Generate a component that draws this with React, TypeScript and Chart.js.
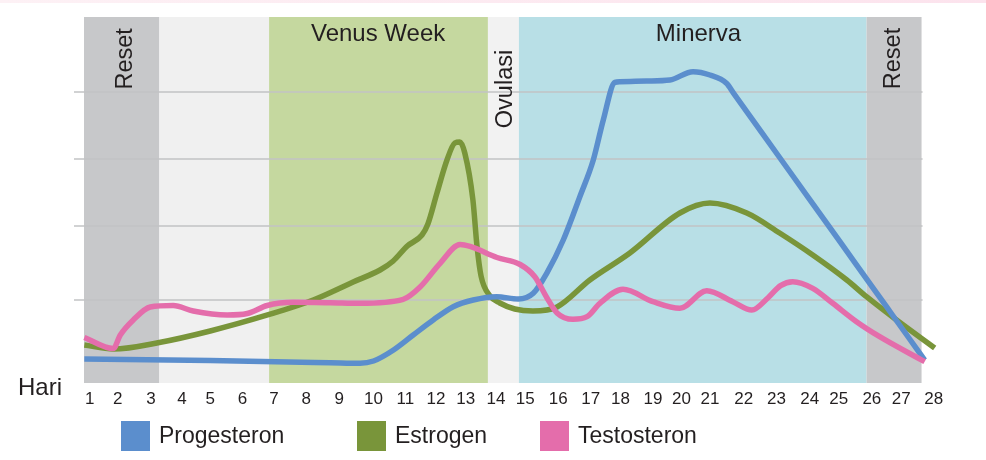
import React, { useEffect, useRef } from "react";
import { Chart, registerables } from "chart.js";

Chart.register(...registerables);

// ---- Data ----
const dayTickLabels = [
  "1", "2", "3", "4", "5", "6", "7", "8", "9", "10", "11", "12", "13", "14",
  "15", "16", "17", "18", "19", "20", "21", "22", "23", "24", "25", "26", "27", "28",
];
const dayTickPositions = [
  1.0, 1.895, 2.96, 3.95, 4.86, 5.89, 6.9, 7.93, 8.98, 10.08, 11.1, 12.08, 13.03, 14.0,
  14.93, 15.99, 17.03, 17.98, 19.02, 19.93, 20.84, 21.92, 22.97, 24.03, 24.96, 26.02, 26.96, 28.0,
];

const phaseNames = ["Reset", "", "Venus Week", "Ovulasi", "Minerva", "Reset"];
const phaseStart = [0.82, 3.23, 6.74, 13.74, 14.73, 25.85];
const phaseEnd = [3.23, 6.74, 13.74, 14.73, 25.85, 27.61];

const gridValues = [79.5, 61.2, 42.9, 22.7];

const progesteronX = [
  0.83, 4.86, 8.69, 9.65, 10.08, 10.72, 11.35, 11.99, 12.63, 13.27, 14.02, 14.71, 15.19, 15.62,
  16.15, 16.68, 17.11, 17.43, 17.8, 17.96, 18.81, 19.56, 20.3, 20.84, 21.37, 21.6, 22.5, 23.5,
  24.5, 25.5, 26.5, 27.2, 27.71,
];
const progesteronY = [
  6.56, 6.15, 5.55, 5.38, 6.01, 9.02, 13.11, 17.21, 20.85, 22.68, 23.58, 22.95, 24.51, 29.97,
  39.07, 50.9, 60.93, 71.86, 82.16, 82.32, 82.51, 82.79, 85.05, 84.15, 81.89, 79.15, 68.41, 56.49,
  44.56, 32.64, 20.71, 12.36, 6.28,
];

const estrogenX = [
  0.83, 1.757, 3.228, 4.858, 6.744, 8.15, 9.429, 10.29, 10.71, 11.16, 11.63, 11.82, 12.11, 12.43,
  12.68, 12.84, 13.0, 13.26, 13.39, 13.52, 13.81, 14.12, 14.6, 15.18, 15.95, 17.0, 18.28, 19.88,
  20.84, 22.02, 23.07, 24.13, 25.22, 25.86, 26.81, 28.03,
];
const estrogenY = [
  10.38, 9.29, 11.07, 14.21, 18.72, 22.68, 27.6, 30.87, 33.33, 37.43, 40.44, 43.44, 51.91, 60.93,
  65.57, 65.85, 62.84, 50.0, 37.43, 29.23, 23.77, 21.86, 20.22, 19.67, 20.77, 28.14, 35.52, 46.45,
  49.18, 46.45, 40.98, 34.97, 28.14, 23.5, 17.21, 9.56,
];

const testosteronX = [
  0.83, 1.757, 1.981, 2.396, 2.939, 3.674, 4.314, 5.4, 6.04, 6.679, 7.51, 8.693, 9.652, 11.03,
  11.57, 12.21, 12.85, 13.17, 14.03, 14.77, 15.24, 15.63, 15.95, 16.46, 16.91, 17.32, 18.06, 19.02,
  19.88, 20.74, 21.57, 22.18, 22.7, 23.1, 23.49, 24.13, 24.77, 25.53, 26.27, 27.71,
];
const testosteronY = [
  12.43, 9.43, 13.11, 17.21, 20.77, 21.17, 19.67, 18.58, 18.99, 21.17, 22.05, 21.94, 21.78, 22.87,
  26.23, 32.7, 37.84, 37.3, 34.29, 32.38, 29.04, 23.22, 19.13, 17.4, 18.11, 21.78, 25.6, 22.21,
  20.41, 25.22, 22.21, 19.95, 23.3, 26.6, 27.68, 25.87, 21.78, 16.75, 12.65, 5.82,
];

// ---- Styles / layout ----
const phaseColors = ["#c7c8ca", "#f0f0f0", "#c5d89f", "#f2f2f2", "#b8dfe6", "#c7c8ca"];
const phaseVertical = [true, false, false, true, false, true];
const phaseLabelDay = [2.141, 0, 10.227, 14.3, 20.476, 26.718];
const phaseLabelOffset = [41.8, 0, 17.7, 72, 17.7, 41.5];
const legendBoxX = [121, 357, 540];
const FONT = "'Liberation Sans', Arial, sans-serif";
const TEXT = "#231f20";

const toPoints = (xs: number[], ys: number[]) => xs.map((x, i) => ({ x, y: ys[i] }));

const decorPlugin = {
  id: "decor",
  beforeDraw(chart: any) {
    const { ctx, width } = chart;
    ctx.save();
    const g = ctx.createLinearGradient(0, 0, width, 0);
    g.addColorStop(0, "#fdf1f5");
    g.addColorStop(1, "#fce3ed");
    ctx.fillStyle = g;
    ctx.fillRect(0, 0, width, 3);
    ctx.restore();
  },
  beforeDatasetsDraw(chart: any) {
    const { ctx, chartArea, scales } = chart;
    const xs = scales.x;
    const ys = scales.y;
    ctx.save();
    for (let i = 0; i < phaseStart.length; i++) {
      const x0 = xs.getPixelForValue(phaseStart[i]);
      const x1 = xs.getPixelForValue(phaseEnd[i]);
      ctx.fillStyle = phaseColors[i];
      ctx.fillRect(x0, chartArea.top, x1 - x0, chartArea.bottom - chartArea.top);
    }
    const gridRight = xs.getPixelForValue(phaseEnd[phaseEnd.length - 1]) + 1;
    ctx.strokeStyle = "#c2c3c5";
    ctx.lineWidth = 1.5;
    gridValues.forEach((v) => {
      const py = ys.getPixelForValue(v);
      ctx.beginPath();
      ctx.moveTo(chartArea.left - 10, py);
      ctx.lineTo(gridRight, py);
      ctx.stroke();
    });
    ctx.fillStyle = TEXT;
    ctx.textAlign = "center";
    ctx.textBaseline = "middle";
    for (let i = 0; i < phaseNames.length; i++) {
      if (!phaseNames[i]) continue;
      const cx = xs.getPixelForValue(phaseLabelDay[i]);
      const cy = chartArea.top + phaseLabelOffset[i];
      if (phaseVertical[i]) {
        ctx.save();
        ctx.font = `23.5px ${FONT}`;
        ctx.translate(cx, cy);
        ctx.rotate(-Math.PI / 2);
        ctx.fillText(phaseNames[i], 0, 0);
        ctx.restore();
      } else {
        ctx.font = `24px ${FONT}`;
        ctx.fillText(phaseNames[i], cx, cy);
      }
    }
    ctx.restore();
  },
  afterDraw(chart: any) {
    const { ctx, chartArea } = chart;
    ctx.save();
    ctx.fillStyle = TEXT;
    ctx.font = `24px ${FONT}`;
    ctx.textAlign = "left";
    ctx.textBaseline = "alphabetic";
    ctx.fillText("Hari", 18, chartArea.bottom + 12);
    chart.data.datasets.forEach((ds: any, i: number) => {
      const bx = legendBoxX[i];
      const by = chartArea.bottom + 38;
      ctx.fillStyle = ds.borderColor;
      ctx.fillRect(bx, by, 29, 30);
      ctx.fillStyle = TEXT;
      ctx.font = `23px ${FONT}`;
      ctx.fillText(ds.label, bx + 38, by + 22);
    });
    ctx.restore();
  },
};

export default function App() {
  const canvasRef = useRef<HTMLCanvasElement | null>(null);

  useEffect(() => {
    if (!canvasRef.current) return;
    const lineStyle = {
      borderWidth: 5.5,
      pointRadius: 0,
      cubicInterpolationMode: "monotone" as const,
      borderCapStyle: "butt" as const,
      borderJoinStyle: "round" as const,
      fill: false,
      clip: false as any,
    };
    const chart = new Chart(canvasRef.current, {
      type: "line",
      data: {
        datasets: [
          {
            label: "Progesteron",
            data: toPoints(progesteronX, progesteronY),
            borderColor: "#5b8ecd",
            backgroundColor: "#5b8ecd",
            order: 1,
            ...lineStyle,
          },
          {
            label: "Estrogen",
            data: toPoints(estrogenX, estrogenY),
            borderColor: "#79953a",
            backgroundColor: "#79953a",
            order: 2,
            ...lineStyle,
          },
          {
            label: "Testosteron",
            data: toPoints(testosteronX, testosteronY),
            borderColor: "#e46dab",
            backgroundColor: "#e46dab",
            order: 0,
            ...lineStyle,
          },
        ],
      },
      options: {
        responsive: false,
        animation: false,
        events: [],
        layout: { padding: { left: 84, right: 46, top: 17, bottom: 44.6 } },
        plugins: { legend: { display: false }, tooltip: { enabled: false } },
        scales: {
          x: {
            type: "linear",
            min: 0.82,
            max: 28.2,
            grid: { display: false, drawTicks: false },
            border: { display: false },
            afterBuildTicks: (scale: any) => {
              scale.ticks = dayTickPositions.map((v) => ({ value: v }));
            },
            ticks: {
              autoSkip: false,
              maxRotation: 0,
              minRotation: 0,
              padding: 6,
              color: TEXT,
              font: { size: 17, family: FONT },
              callback: (_v: any, i: number) => dayTickLabels[i],
            },
          },
          y: {
            type: "linear",
            min: 0,
            max: 100,
            display: false,
          },
        },
      },
      plugins: [decorPlugin],
    });
    return () => chart.destroy();
  }, []);

  return (
    <div style={{ position: "absolute", left: 0, top: 0, width: 986, height: 460, background: "#fff" }}>
      <canvas ref={canvasRef} width={986} height={460} style={{ display: "block", width: 986, height: 460 }} />
    </div>
  );
}
